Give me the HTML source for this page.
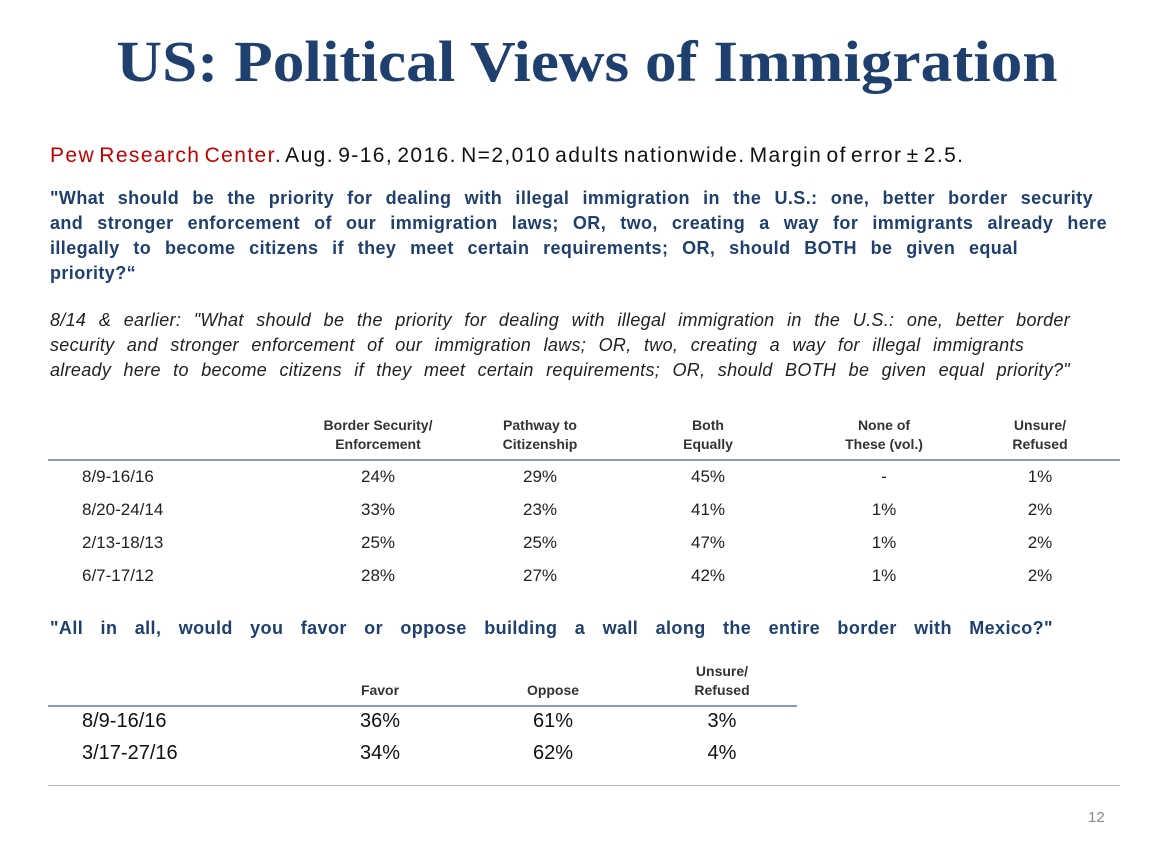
<!DOCTYPE html>
<html><head><meta charset="utf-8"><style>
body{margin:0;width:1174px;height:856px;background:#fff;position:relative;overflow:hidden;font-family:"Liberation Sans",sans-serif}
.a{position:absolute;white-space:nowrap}
.t{left:0;width:1174px;text-align:center;top:28px;font:bold 58px "Liberation Serif",serif;color:#1f3f6e;transform:scaleX(1.09)}
.q{color:#1f3f6e;font-weight:bold;font-size:18px;letter-spacing:0.4px;line-height:25px;left:50px;text-align:justify;text-align-last:justify;white-space:normal}
.i{font-style:italic;font-size:18px;letter-spacing:0.3px;line-height:25px;left:50px;color:#222;text-align:justify;text-align-last:justify;white-space:normal}
.h{font-size:14px;font-weight:bold;text-align:center;line-height:19px;color:#333;transform:translateX(-50%)}
.c{font-size:17px;color:#222;transform:translateX(-50%);text-align:center}
.c2{font-size:20px;color:#111;transform:translateX(-50%);text-align:center}
</style></head><body>
<div class="a t">US: Political Views of Immigration</div>
<div class="a" style="left:50px;top:144px;font-size:21px;letter-spacing:1.4px;word-spacing:-3px;color:#111"><span style="color:#c00000">Pew Research Center</span>. Aug. 9-16, 2016. N=2,010 adults nationwide. Margin of error ± 2.5.</div>
<div>
<div class="a q" style="top:186px;width:1043px">"What should be the priority for dealing with illegal immigration in the U.S.: one, better border security</div>
<div class="a q" style="top:211px;width:1057px">and stronger enforcement of our immigration laws; OR, two, creating a way for immigrants already here</div>
<div class="a q" style="top:236px;width:968px">illegally to become citizens if they meet certain requirements; OR, should BOTH be given equal</div>
<div class="a q" style="top:261px;text-align-last:left">priority?“</div>
</div>
<div>
<div class="a i" style="top:308px;width:1020px">8/14 &amp; earlier: "What should be the priority for dealing with illegal immigration in the U.S.: one, better border</div>
<div class="a i" style="top:333px;width:974px">security and stronger enforcement of our immigration laws; OR, two, creating a way for illegal immigrants</div>
<div class="a i" style="top:358px;width:1020px">already here to become citizens if they meet certain requirements; OR, should BOTH be given equal priority?"</div>
</div>
<div class="a" style="left:48px;top:459px;width:1072px;height:2px;background:#8a9bb5"></div>
<div class="a q" style="top:616px;width:1003px">"All in all, would you favor or oppose building a wall along the entire border with Mexico?"</div>
<div class="a" style="left:48px;top:705px;width:749px;height:2px;background:#8a9bb5"></div>
<div class="a" style="left:48px;top:785px;width:1072px;height:1px;background:#bbb"></div>
<div class="a" style="left:1088px;top:809px;font-size:15px;color:#888">12</div>
<script>
const heads1=["Border Security/<br>Enforcement","Pathway to<br>Citizenship","Both<br>Equally","None of<br>These (vol.)","Unsure/<br>Refused"];
const dates1=["8/9-16/16","8/20-24/14","2/13-18/13","6/7-17/12"];
const vals1=[["24%","29%","45%","-","1%"],["33%","23%","41%","1%","2%"],["25%","25%","47%","1%","2%"],["28%","27%","42%","1%","2%"]];
const heads2=["Favor","Oppose","Unsure/<br>Refused"];
const dates2=["8/9-16/16","3/17-27/16"];
const vals2=[["36%","61%","3%"],["34%","62%","4%"]];
const cx1=[378,540,708,884,1040], cx2=[380,553,722];
function mk(cls,x,y,html,name){const d=document.createElement('div');d.className='a '+cls;d.style.left=x+'px';d.style.top=y+'px';d.innerHTML=html;


document.body.appendChild(d);}
heads1.forEach((h,j)=>mk('h',cx1[j],416,h,'table1-header'));
dates1.forEach((d,i)=>{const y=467+i*33;mk('',82,y,d,'table1-date');document.body.lastChild.style.fontSize='17px';document.body.lastChild.style.color='#222';
vals1[i].forEach((v,j)=>mk('c',cx1[j],y,v,'table1-cell'));});
heads2.forEach((h,j)=>mk('h',cx2[j],h.includes('<br>')?662:681,h,'table2-header'));
dates2.forEach((d,i)=>{const y=710+i*32;mk('',82,y,d,'table2-date');document.body.lastChild.style.fontSize='20px';document.body.lastChild.style.color='#111';
vals2[i].forEach((v,j)=>mk('c2',cx2[j],y,v,'table2-cell'));});
</script>
</body></html>
